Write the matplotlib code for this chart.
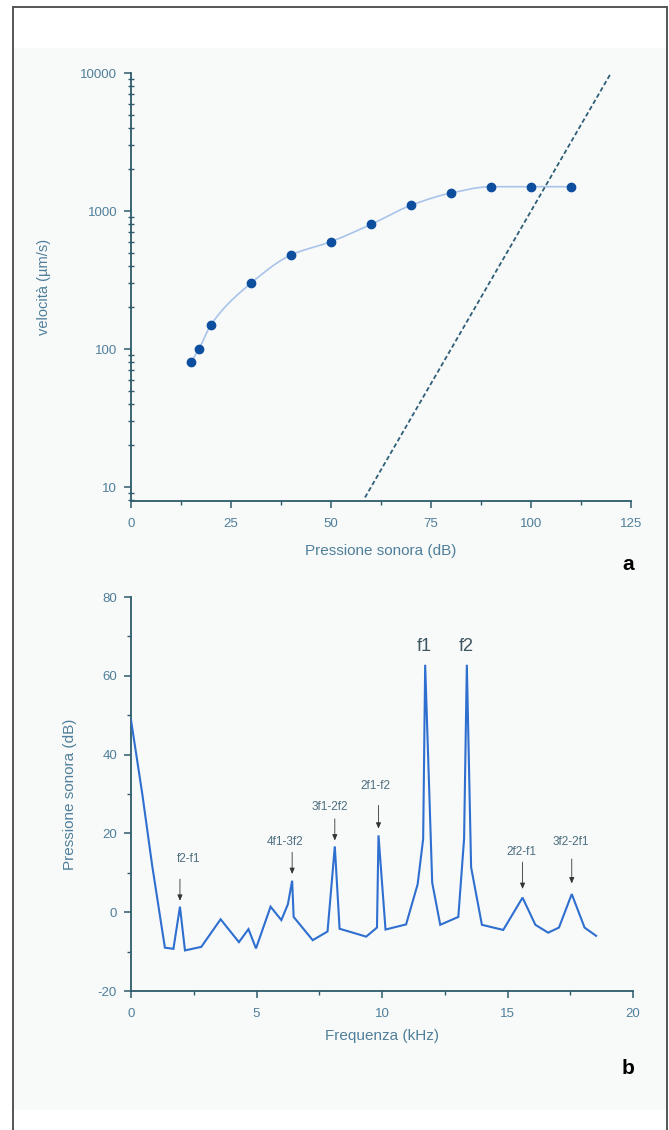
import numpy as np
import matplotlib
matplotlib.use("Agg")
import matplotlib.pyplot as plt
from matplotlib.lines import Line2D
from matplotlib.patches import Rectangle
from matplotlib.ticker import FixedLocator, NullFormatter, LogLocator

plt.rcParams['font.family'] = ['Liberation Sans', 'DejaVu Sans']

# ---------------- data: panel a ----------------
pressure_db = [15, 17, 20, 30, 40, 50, 60, 70, 80, 90, 100, 110]
velocity = [80, 100, 150, 300, 480, 600, 800, 1100, 1350, 1500, 1500, 1500]
ref_x = [58.5, 120]
ref_y = [8.4, 10000]
a_xticks = [0, 25, 50, 75, 100, 125]
a_yticks = [10, 100, 1000, 10000]

# ---------------- data: panel b ----------------
freq_khz = [0.0, 0.45, 0.84, 1.35, 1.69, 1.95, 2.15, 2.8, 3.57, 4.3, 4.68, 4.98, 5.56,
            5.99, 6.25, 6.42, 6.48, 7.24, 7.83, 8.12, 8.31, 9.37, 9.8, 9.86, 10.14,
            10.96, 11.42, 11.64, 11.72, 12.0, 12.32, 13.04, 13.27, 13.38, 13.55,
            13.98, 14.83, 15.6, 16.11, 16.62, 17.05, 17.56, 18.07, 18.53]
level_db = [48.8, 30.0, 12.0, -9.0, -9.3, 1.4, -9.7, -8.8, -1.8, -7.6, -4.3, -9.2, 1.4,
            -2.0, 2.0, 8.0, -1.2, -7.1, -4.9, 16.7, -4.2, -6.2, -3.9, 19.5, -4.4,
            -3.1, 7.1, 18.6, 62.8, 7.5, -3.2, -1.2, 18.6, 62.8, 11.4,
            -3.2, -4.5, 3.7, -3.2, -5.2, -3.9, 4.6, -3.9, -6.0]
dp_labels = ["f2-f1", "4f1-3f2", "3f1-2f2", "2f1-f2", "2f2-f1", "3f2-2f1"]
dp_freq = [1.95, 6.42, 8.12, 9.86, 15.6, 17.56]
dp_label_x = [2.29, 6.13, 7.92, 9.74, 15.56, 17.53]
dp_label_y = [13.5, 17.8, 26.7, 32.0, 15.4, 17.8]
dp_arrow_top = [8.4, 15.2, 23.7, 27.1, 12.7, 13.5]
dp_arrow_tip = [2.9, 9.7, 18.2, 21.2, 5.9, 7.3]
prim_labels = ["f1", "f2"]
prim_freq = [11.67, 13.35]
prim_label_y = [67.5, 67.5]
b_xticks = [0, 5, 10, 15, 20]
b_yticks = [-20, 0, 20, 40, 60, 80]

# ---------------- style ----------------
SPINE = "#2e5b6b"
TXT = "#4f7f9a"
ANN = "#4d6e7e"

W, H = 669, 1130
fig = plt.figure(figsize=(W / 100, H / 100), dpi=100)
fig.patch.set_facecolor("white")

# background panel + frame
fig.patches.append(Rectangle((13 / W, 1 - 1110 / H), (667 - 13) / W, (1110 - 48) / H,
                             transform=fig.transFigure, facecolor="#f8f9f9",
                             edgecolor="none", zorder=-10))
for xs, ys in [([13, 13], [7, 1130]), ([13, 667], [7, 7]), ([667, 667], [7, 1130])]:
    fig.lines.append(Line2D([x / W for x in xs], [1 - y / H for y in ys],
                            transform=fig.transFigure, color="#555555", lw=1.4,
                            zorder=-9))


def style_axes(ax):
    for s in ["top", "right"]:
        ax.spines[s].set_visible(False)
    for s in ["left", "bottom"]:
        ax.spines[s].set_color(SPINE)
        ax.spines[s].set_linewidth(1.3)
    ax.set_facecolor("none")
    ax.patch.set_alpha(0)
    ax.tick_params(which="major", direction="out", length=5, width=1.1,
                   color=SPINE, labelcolor=TXT, labelsize=9.5)
    ax.tick_params(axis="x", which="major", pad=7)
    ax.tick_params(axis="y", which="major", pad=5)
    ax.tick_params(which="minor", direction="out", length=3, width=1.0, color=SPINE)


# ---------------- panel a ----------------
axa = fig.add_axes([131 / W, 1 - 501 / H, 500 / W, (501 - 73) / H])
style_axes(axa)
axa.set_yscale("log")
axa.set_xlim(0, 125)
axa.set_ylim(7.92, 10000)

# smooth curve through the points (monotone cubic in log space)
xp = np.array(pressure_db, float)
yp = np.log10(np.array(velocity, float))
h = np.diff(xp)
d = np.diff(yp) / h
m = np.zeros_like(yp)
m[0], m[-1] = d[0], d[-1]
for i in range(1, len(xp) - 1):
    if d[i - 1] * d[i] <= 0:
        m[i] = 0
    else:
        w1, w2 = 2 * h[i] + h[i - 1], h[i] + 2 * h[i - 1]
        m[i] = (w1 + w2) / (w1 / d[i - 1] + w2 / d[i])
xs_all, ys_all = [], []
for i in range(len(xp) - 1):
    t = np.linspace(0, 1, 30)
    h00 = 2 * t**3 - 3 * t**2 + 1
    h10 = t**3 - 2 * t**2 + t
    h01 = -2 * t**3 + 3 * t**2
    h11 = t**3 - t**2
    xs_all.append(xp[i] + t * h[i])
    ys_all.append(h00 * yp[i] + h10 * h[i] * m[i] + h01 * yp[i + 1] + h11 * h[i] * m[i + 1])
axa.plot(np.concatenate(xs_all), 10 ** np.concatenate(ys_all), color="#a9c4ea", lw=1.2, zorder=2)
axa.plot(pressure_db, velocity, "o", color="#0d4f9e", ms=6, zorder=3)
axa.plot(ref_x, ref_y, ls=(0, (2.5, 1.5)), color="#2f5f78", lw=1.3, zorder=2)

axa.xaxis.set_major_locator(FixedLocator(a_xticks))
axa.xaxis.set_minor_locator(FixedLocator([12.5, 37.5, 62.5, 87.5, 112.5]))
axa.set_xticklabels([str(v) for v in a_xticks])
axa.yaxis.set_major_locator(FixedLocator(a_yticks))
axa.set_yticklabels([str(v) for v in a_yticks])
axa.yaxis.set_minor_locator(LogLocator(base=10, subs=np.arange(2, 10)))
axa.yaxis.set_minor_formatter(NullFormatter())
axa.tick_params(axis="y", which="minor", direction="inout", length=4)
axa.set_xlabel("Pressione sonora (dB)", color=TXT, fontsize=11, labelpad=10)
axa.set_ylabel("velocità (µm/s)", color=TXT, fontsize=10.5, labelpad=21)
fig.text(628 / W, 1 - 565 / H, "a", fontsize=15, fontweight="bold", color="black",
         ha="center", va="center")

# ---------------- panel b ----------------
axb = fig.add_axes([131 / W, 1 - 991 / H, 502 / W, (991 - 597) / H])
style_axes(axb)
axb.set_xlim(0, 20)
axb.set_ylim(-20, 80)
axb.plot(freq_khz, level_db, color="#2e6fd0", lw=1.5, zorder=3, solid_joinstyle="miter")
axb.xaxis.set_major_locator(FixedLocator(b_xticks))
axb.xaxis.set_minor_locator(FixedLocator([2.5, 7.5, 12.5, 17.5]))
axb.yaxis.set_major_locator(FixedLocator(b_yticks))
axb.yaxis.set_minor_locator(FixedLocator([-10, 10, 30, 50, 70]))
axb.set_xticklabels([str(v) for v in b_xticks])
axb.set_yticklabels([str(v) for v in b_yticks])
axb.set_xlabel("Frequenza (kHz)", color=TXT, fontsize=11, labelpad=7)
axb.set_ylabel("Pressione sonora (dB)", color=TXT, fontsize=11, labelpad=15)

for lab, fx, lx, ly, top, tip in zip(dp_labels, dp_freq, dp_label_x, dp_label_y,
                                     dp_arrow_top, dp_arrow_tip):
    axb.text(lx, ly, lab, color=ANN, fontsize=8.5, ha="center", va="center")
    axb.annotate("", xy=(fx, tip), xytext=(fx, top),
                 arrowprops=dict(arrowstyle="-|>,head_length=0.35,head_width=0.15",
                                 color="#333333", lw=0.6, shrinkA=0, shrinkB=0),
                 zorder=4)
for lab, fx, ly in zip(prim_labels, prim_freq, prim_label_y):
    axb.text(fx, ly, lab, color="#3f5560", fontsize=13, ha="center", va="center")

fig.text(628 / W, 1 - 1068 / H, "b", fontsize=15, fontweight="bold", color="black",
         ha="center", va="center")

fig.savefig("out.png", dpi=100, facecolor="white")
